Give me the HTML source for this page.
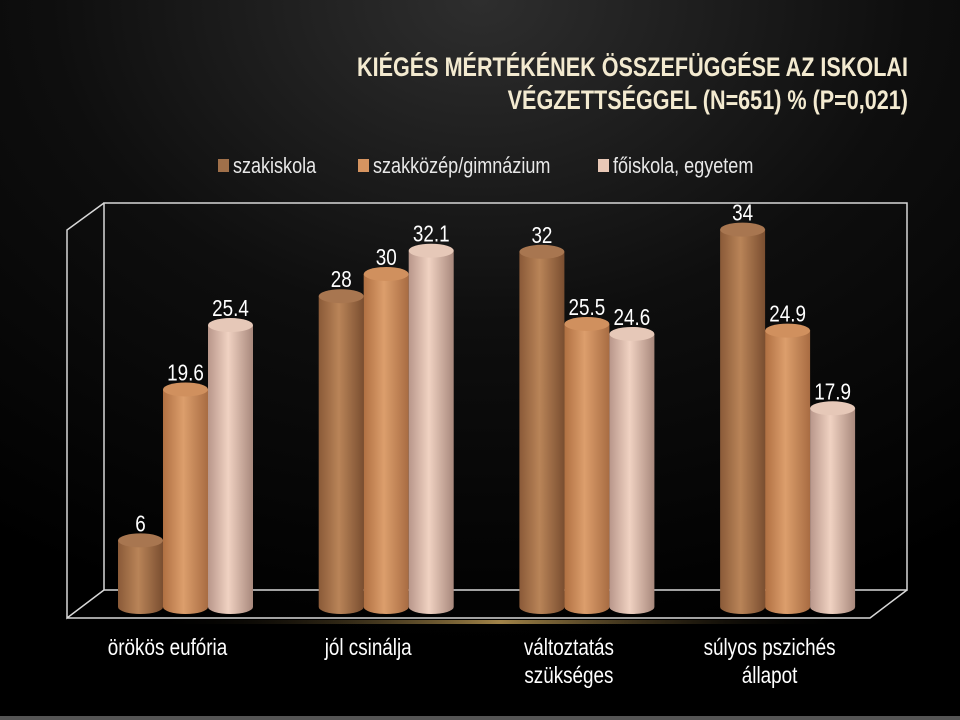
<!DOCTYPE html>
<html><head><meta charset="utf-8">
<style>
html,body{margin:0;padding:0;background:#000;}
svg{display:block;}
text{font-family:"Liberation Sans",sans-serif;}
</style></head>
<body>
<svg id="chart" width="960" height="720" viewBox="0 0 960 720" xmlns="http://www.w3.org/2000/svg">
<defs>
<radialGradient id="bg" cx="0.5" cy="0" r="0.9">
<stop offset="0" stop-color="#2e2e2e"/><stop offset="0.5" stop-color="#0e0e0e"/><stop offset="1" stop-color="#000"/>
</radialGradient>
<linearGradient id="g0" x1="0" x2="1"><stop offset="0" stop-color="#8a5a38"/><stop offset="0.45" stop-color="#b98458"/><stop offset="1" stop-color="#7a4e30"/></linearGradient>
<linearGradient id="g1" x1="0" x2="1"><stop offset="0" stop-color="#b07042"/><stop offset="0.45" stop-color="#dc9e6c"/><stop offset="1" stop-color="#a86c42"/></linearGradient>
<linearGradient id="g2" x1="0" x2="1"><stop offset="0" stop-color="#b8968a"/><stop offset="0.45" stop-color="#f0d2c2"/><stop offset="1" stop-color="#a8887c"/></linearGradient>
<linearGradient id="gold" x1="0" x2="1"><stop offset="0" stop-color="#000" stop-opacity="0"/><stop offset="0.5" stop-color="#c9a45a"/><stop offset="1" stop-color="#000" stop-opacity="0"/></linearGradient>
</defs>
<rect width="960" height="720" fill="url(#bg)"/>
<rect y="716" width="960" height="4" fill="#555"/>
<g fill="#f3ead0" font-weight="bold" font-size="27" text-anchor="end" transform="scale(0.8,1)">
<text x="1135" y="76">KIÉGÉS MÉRTÉKÉNEK ÖSSZEFÜGGÉSE AZ ISKOLAI</text>
<text x="1135" y="109">VÉGZETTSÉGGEL (N=651) % (P=0,021)</text>
</g>
<g id="legend"></g>
<g fill="none" stroke="#d8d8d8" stroke-width="1.5">
<rect x="104" y="203" width="803" height="387"/>
<polyline points="104,203 67,230 67,618 104,590"/>
<polyline points="67,618 870,618 907,590"/>
</g>
<rect x="150" y="620" width="700" height="4" fill="url(#gold)" opacity="0.8"/>
<g id="bars"></g>
<g id="cats"></g>
</svg>
<script>
const categories = [["örökös eufória"],["jól csinálja"],["változtatás","szükséges"],["súlyos pszichés","állapot"]];
const seriesNames = ["szakiskola","szakközép/gimnázium","főiskola, egyetem"];
const s1 = [6, 28, 32, 34];
const s2 = [19.6, 30, 25.5, 24.9];
const s3 = [25.4, 32.1, 24.6, 17.9];
const series = [s1, s2, s3];

const NS = "http://www.w3.org/2000/svg";
const base = 607, k = 11.1;
const y = v => base - v * k;
const groupX = i => 118 + i * 200.7;
const barW = 45;
const barX = (i, s) => groupX(i) + s * barW;
const fills = ["url(#g0)","url(#g1)","url(#g2)"];
const tops = ["#a87650","#d0905e","#e6c8b8"];
const legCols = ["#a0704a","#d69460","#e8c8b6"];
const SX = 0.82;
function mk(tag, attrs, parent){const e=document.createElementNS(NS,tag);for(const a in attrs)e.setAttribute(a,attrs[a]);parent.appendChild(e);return e;}
function narrowText(x, yy, str, anchor, size, fill, parent){
  const t = mk('text', {x:(x/SX).toFixed(1), y:yy, 'text-anchor':anchor, 'font-size':size, fill:fill, transform:`scale(${SX},1)`}, parent);
  t.textContent = str;
  return t;
}

const bars = document.getElementById('bars');
for (let i = 0; i < categories.length; i++) {
  for (let s = 0; s < 3; s++) {
    const v = series[s][i];
    const x = barX(i, s), cx = x + barW/2, ty = y(v);
    const g = mk('g', {}, bars);
    
    
    mk('path', {d:`M${x},${ty} L${x},${base} A${barW/2},7 0 0 0 ${x+barW},${base} L${x+barW},${ty} Z`, fill:fills[s]}, g);
    mk('ellipse', {cx:cx, cy:ty, rx:barW/2, ry:7, fill:tops[s]}, g);
    const t = narrowText(cx, ty-9, String(v), 'middle', 23, '#fff', bars);
    
    
  }
}
const cats = document.getElementById('cats');
for (let i = 0; i < categories.length; i++) {
  const cx = groupX(i) + 1.5*barW - 18;
  categories[i].forEach((line, j) => {
    const t = narrowText(cx, 655 + j*28, line, 'middle', 23, '#fff', cats);
    
    
  });
}
const legend = document.getElementById('legend');
const legX = [218, 358, 598];
seriesNames.forEach((n, s) => {
  const g = mk('g', {}, legend);
  
  
  mk('rect', {x:legX[s], y:159, width:11, height:13, fill:legCols[s]}, g);
  narrowText(legX[s]+15, 173, n, 'start', 22, '#e8e8e8', g);
});
</script>
</body></html>
